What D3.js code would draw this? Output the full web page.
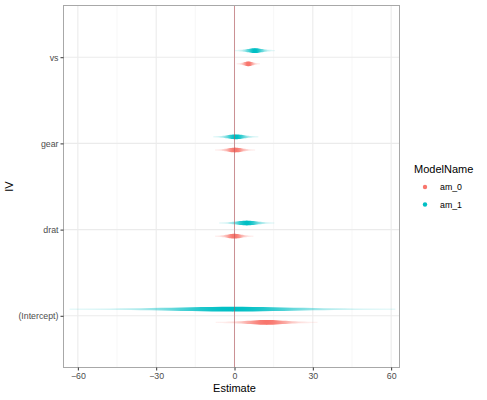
<!DOCTYPE html>
<html>
<head>
<meta charset="utf-8">
<script src="https://cdn.jsdelivr.net/npm/d3@7"></script>
<style>
  body { margin: 0; background: #fff; }
  text { font-family: "Liberation Sans", Arial, sans-serif; }
</style>
</head>
<body>
<div id="chart"></div>
<script>
// terms from bottom to top
const terms = ["(Intercept)", "drat", "gear", "vs"];
const models = ["am_0", "am_1"];
const colors = ["#F8766D", "#00BFC4"];
// estimates and standard errors per model, same order as terms
const estAm0 = [12.3, -0.1, 0.2, 5.3];
const seAm0 = [6.1, 2.3, 2.4, 1.4];
const estAm1 = [-0.8, 4.7, 0.5, 7.8];
const seAm1 = [19.5, 3.3, 2.7, 2.4];
const xTicks = [-60, -30, 0, 30, 60];
const xMinor = [-45, -15, 15, 45];

const width = 487, height = 400;
const panel = { left: 63.5, right: 399.5, top: 5.5, bottom: 367.5 };

const svg = d3.select("#chart").append("svg")
  .attr("width", width).attr("height", height);
const defs = svg.append("defs");

const x = d3.scaleLinear().domain([-65.5, 63.2]).range([panel.left, panel.right]);
const y = d3.scalePoint().domain(terms).range([panel.bottom, panel.top]).padding(0.6);

const g = svg.append("g");

// grid
g.selectAll(".minor").data(xMinor).enter().append("line")
  .attr("x1", d => x(d)).attr("x2", d => x(d))
  .attr("y1", panel.top).attr("y2", panel.bottom)
  .attr("stroke", "#f2f2f2").attr("stroke-width", 0.6);
g.selectAll(".major").data(xTicks).enter().append("line")
  .attr("x1", d => x(d)).attr("x2", d => x(d))
  .attr("y1", panel.top).attr("y2", panel.bottom)
  .attr("stroke", "#ebebeb").attr("stroke-width", 1.1);
g.selectAll(".hmajor").data(terms).enter().append("line")
  .attr("x1", panel.left).attr("x2", panel.right)
  .attr("y1", d => y(d)).attr("y2", d => y(d))
  .attr("stroke", "#ebebeb").attr("stroke-width", 1.1);

const rows = [];
terms.forEach((t, i) => {
  rows.push({ term: t, m: 0, est: estAm0[i], se: seAm0[i] });
  rows.push({ term: t, m: 1, est: estAm1[i], se: seAm1[i] });
});

const dodge = 6.6;
const area = d3.area().x(d => d.px).y0(d => d.y0).y1(d => d.y1);

rows.forEach((r, k) => {
  const cy = y(r.term) + (r.m === 0 ? dodge : -dodge);
  const col = colors[r.m];
  const id = "grad" + k;
  const lo = r.est - 3.2 * r.se, hi = r.est + 3.2 * r.se;
  const grad = defs.append("linearGradient").attr("id", id)
    .attr("gradientUnits", "userSpaceOnUse")
    .attr("x1", x(lo)).attr("x2", x(hi)).attr("y1", 0).attr("y2", 0);
  const zs = d3.range(-3.2, 3.21, 0.2);
  zs.forEach(z => {
    const dens = Math.exp(-z * z / 2);
    grad.append("stop")
      .attr("offset", (z + 3.2) / 6.4)
      .attr("stop-color", col)
      .attr("stop-opacity", 0.08 + 0.92 * Math.pow(dens, 0.8));
  });
  const pts = zs.map(z => {
    const dens = Math.exp(-z * z / 2);
    const h = 0.7 + 1.7 * dens;
    return { px: x(r.est + z * r.se), y0: cy - h, y1: cy + h };
  });
  g.append("path").datum(pts).attr("d", area).attr("fill", `url(#${id})`);
  g.append("circle").attr("cx", x(r.est)).attr("cy", cy).attr("r", 2).attr("fill", col);
});

// zero line, drawn over the marks
g.append("line")
  .attr("x1", x(0)).attr("x2", x(0))
  .attr("y1", panel.top).attr("y2", panel.bottom)
  .attr("stroke", "#b5555a").attr("stroke-opacity", 0.6).attr("stroke-width", 1);

// panel border
svg.append("rect")
  .attr("x", panel.left).attr("y", panel.top)
  .attr("width", panel.right - panel.left).attr("height", panel.bottom - panel.top)
  .attr("fill", "none").attr("stroke", "#a8a8a8").attr("stroke-width", 1);

// x axis
const xAxis = svg.append("g").attr("transform", `translate(0,${panel.bottom})`)
  .call(d3.axisBottom(x).tickValues(xTicks).tickSize(3).tickPadding(2));
xAxis.select(".domain").remove();
xAxis.selectAll("line").attr("stroke", "#333");
xAxis.selectAll("text").attr("fill", "#4d4d4d").style("font-size", "8.8px")
  .style("font-family", "Liberation Sans, Arial, sans-serif");

// y axis
const yAxis = svg.append("g").attr("transform", `translate(${panel.left},0)`)
  .call(d3.axisLeft(y).tickSize(3).tickPadding(2));
yAxis.select(".domain").remove();
yAxis.selectAll("line").attr("stroke", "#333");
yAxis.selectAll("text").attr("fill", "#4d4d4d").style("font-size", "8.8px")
  .style("font-family", "Liberation Sans, Arial, sans-serif");

// axis titles
svg.append("text").attr("x", x(0)).attr("y", 392)
  .attr("text-anchor", "middle").style("font-size", "11px").text("Estimate");
svg.append("text").attr("transform", `translate(13,${(panel.top + panel.bottom) / 2}) rotate(-90)`)
  .attr("text-anchor", "middle").style("font-size", "11px").text("IV");

// legend
const leg = svg.append("g").attr("transform", "translate(414,0)");
leg.append("text").attr("x", 0).attr("y", 173).style("font-size", "11px").text("ModelName");
models.forEach((m, i) => {
  const ly = 187 + i * 17.5;
  leg.append("circle").attr("cx", 11).attr("cy", ly).attr("r", 2.2).attr("fill", colors[i]);
  leg.append("text").attr("x", 26).attr("y", ly + 3).style("font-size", "8.8px").text(m);
});
</script>
</body>
</html>
